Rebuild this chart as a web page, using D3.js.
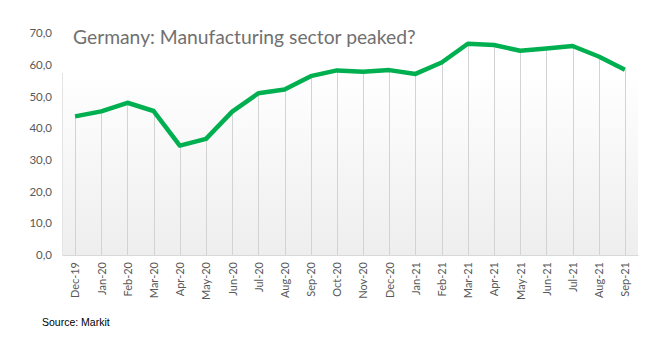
<!DOCTYPE html>
<html><head><meta charset="utf-8">
<script src="https://cdn.jsdelivr.net/npm/d3@7"></script>
<style>body{margin:0;background:#fff}svg{display:block}</style>
</head><body><svg id="c" width="657" height="340"></svg>
<script>
const months = ["Dec-19","Jan-20","Feb-20","Mar-20","Apr-20","May-20","Jun-20","Jul-20","Aug-20","Sep-20","Oct-20","Nov-20","Dec-20","Jan-21","Feb-21","Mar-21","Apr-21","May-21","Jun-21","Jul-21","Aug-21","Sep-21"];
const pmi = [43.7,45.3,48.0,45.4,34.5,36.6,45.2,51.0,52.2,56.4,58.2,57.8,58.3,57.1,60.7,66.6,66.2,64.4,65.1,65.9,62.6,58.4];
const yTicks = [0,10,20,30,40,50,60,70];
const title = "Germany: Manufacturing sector peaked?";
const source = "Source: Markit";

const svg = d3.select("#c");
const L = 62, R = 638, T = 33, B = 255;
const x = d3.scalePoint().domain(months).range([L, R]).padding(0.5);
const y = d3.scaleLinear().domain([0, 70]).range([B, T]);

const defs = svg.append("defs");
const g = defs.append("linearGradient").attr("id","bg").attr("x1",0).attr("x2",0).attr("y1",0).attr("y2",1);
g.append("stop").attr("offset","0%").attr("stop-color","#ffffff");
g.append("stop").attr("offset","100%").attr("stop-color","#eeeeee");
svg.append("rect").attr("x",L).attr("y",73).attr("width",R-L).attr("height",B-73).attr("fill","url(#bg)");
svg.append("line").attr("x1",L+0.5).attr("x2",L+0.5).attr("y1",73).attr("y2",B).attr("stroke","#e4e4e4");

// drop lines
svg.append("g").selectAll("line").data(months).join("line")
  .attr("x1",(d)=>Math.round(x(d))+0.5).attr("x2",(d)=>Math.round(x(d))+0.5)
  .attr("y1",(d,i)=>y(pmi[i])).attr("y2",B)
  .attr("stroke","#d3d3d3").attr("stroke-width",1);

// x axis
const xa = svg.append("g").attr("transform",`translate(0,${B})`).call(d3.axisBottom(x).tickSize(0));
xa.select(".domain").attr("stroke","#d9d9d9");
xa.selectAll("text").attr("transform","rotate(-90)").attr("text-anchor","end")
  .attr("x",-7).attr("y",0).attr("dy","0.35em")
  .attr("font-family","Lato, sans-serif").attr("font-size",11).attr("fill","#595959");

// y axis
const ya = svg.append("g").attr("transform",`translate(52,0)`).call(d3.axisLeft(y).tickValues(yTicks).tickSize(0).tickFormat(d=>d3.format(".1f")(d).replace(".",",")));
ya.select(".domain").remove();
ya.selectAll("text").attr("x",0).attr("font-family","Lato, sans-serif").attr("font-size",11.5).attr("fill","#595959");

// line
svg.append("path").datum(pmi)
  .attr("d", d3.line().x((d,i)=>x(months[i])).y(d=>y(d)))
  .attr("fill","none").attr("stroke","#00b050").attr("stroke-width",4.5).attr("stroke-linejoin","round");

svg.append("text").attr("x",73).attr("y",44).text(title)
  .attr("font-family","Lato, sans-serif").attr("font-size",19.3).attr("fill","#707070");
svg.append("text").attr("x",42).attr("y",326).text(source)
  .attr("font-family","'Liberation Sans', Arial, sans-serif").attr("font-size",10.5).attr("fill","#000");
</script></body></html>
